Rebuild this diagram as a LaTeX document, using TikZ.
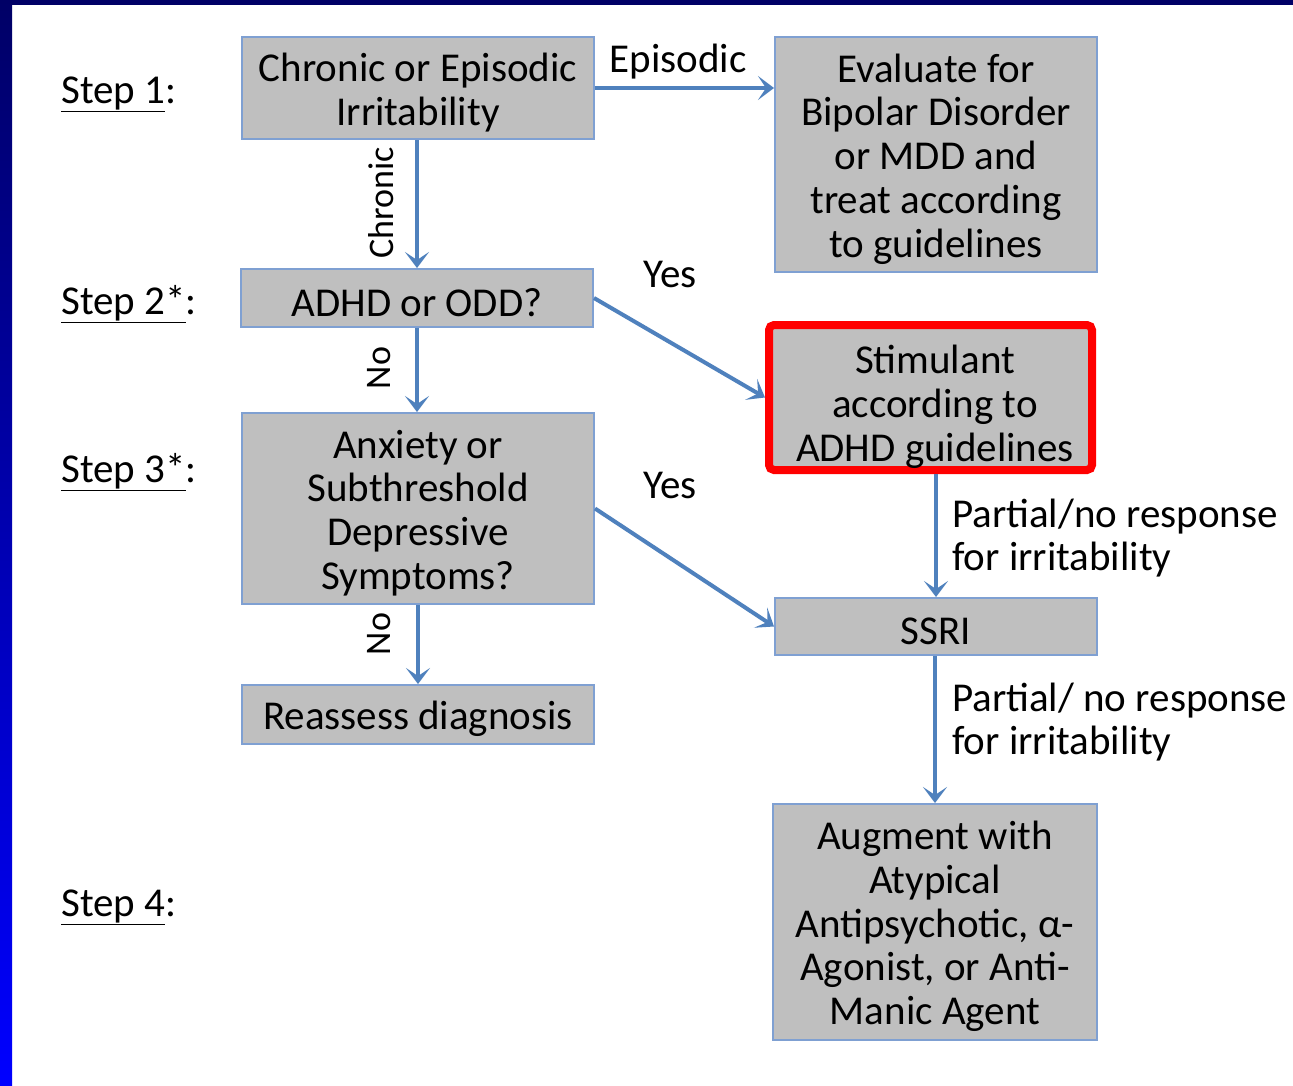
\documentclass[tikz,border=0pt]{standalone}
\usepackage{fontspec}
\setmainfont{Carlito}
\usetikzlibrary{arrows.meta}
\definecolor{boxfill}{RGB}{191,191,191}
\definecolor{boxline}{RGB}{127,160,210}
\definecolor{arrowblue}{RGB}{79,129,189}
\definecolor{navy}{RGB}{0,0,102}
\definecolor{brightblue}{RGB}{0,0,255}
\tikzset{
  box/.style={draw=boxline, line width=2pt, fill=boxfill, inner sep=0pt},
  boxtext/.style={inner sep=0pt, align=center, font=\fontsize{41}{43.75}\selectfont, text=black, yshift=-4.5pt},
  lbl/.style={inner sep=0pt, font=\fontsize{41}{43.75}\selectfont, text=black},
  vlbl/.style={inner sep=0pt, font=\fontsize{36}{40}\selectfont, text=black, rotate=90},
  arr/.style={draw=arrowblue, line width=4pt, -{Stealth[length=16pt,width=24pt,inset=8pt]}},
}
\begin{document}
\begin{tikzpicture}[x=1pt,y=-1pt]
\useasboundingbox (0,0) rectangle (1293,1085);
\fill[white] (0,0) rectangle (1293,1085);
\fill[navy] (0,0) rectangle (1293,5);
\shade[top color=navy, bottom color=brightblue, middle color={rgb,255:red,0;green,0;blue,178}] (0,0) rectangle (12,1085);

% step labels
\node[lbl, anchor=west] (s1) at (61,94) {\underline{Step 1}:};
\node[lbl, anchor=west] (s2) at (61,304) {\underline{Step 2*}:};
\node[lbl, anchor=west] (s3) at (61,472) {\underline{Step 3*}:};
\node[lbl, anchor=west] (s4) at (61,907) {\underline{Step 4}:};

% boxes
\node[box, minimum width=352pt, minimum height=102pt,
  label={[boxtext]center:{Chronic or Episodic\\Irritability}}] (b1) at (418,88) {};
\node[box, minimum width=322pt, minimum height=235pt,
  label={[boxtext]center:{Evaluate for\\Bipolar Disorder\\or MDD and\\treat according\\to guidelines}}] (eval) at (936,154.5) {};
\node[box, minimum width=352pt, minimum height=58pt,
  label={[boxtext]center:{ADHD or ODD?}}] (adhd) at (417,298) {};
\node[box, draw=red, line width=8pt, rounded corners=5pt, minimum width=323pt, minimum height=145pt,
  label={[boxtext, xshift=4.5pt, yshift=-5pt]center:{Stimulant\\according to\\ADHD guidelines}}] (stim) at (930.5,397.5) {};
\node[box, minimum width=352pt, minimum height=191pt,
  label={[boxtext]center:{Anxiety or\\Subthreshold\\Depressive\\Symptoms?}}] (anx) at (418,508.5) {};
\node[box, minimum width=352pt, minimum height=59pt,
  label={[boxtext]center:{Reassess diagnosis}}] (reas) at (418,714.5) {};
\node[box, minimum width=322pt, minimum height=57pt,
  label={[boxtext]center:{SSRI}}] (ssri) at (936,626.5) {};
\node[box, minimum width=324pt, minimum height=236pt,
  label={[boxtext]center:{Augment with\\Atypical\\Antipsychotic, α-\\Agonist, or Anti-\\Manic Agent}}] (aug) at (935,922) {};

% connectors
\draw[arr] (b1.east) -- (b1.east -| eval.west);
\draw[arr] (b1.south -| adhd.north) -- (adhd.north);
\draw[arr] (adhd.east) -- (stim.west);
\draw[arr] (adhd.south) -- (adhd.south |- anx.north);
\draw[arr] (anx.east) -- (ssri.west);
\draw[arr] (anx.south) -- (reas.north);
\draw[arr] (ssri.north |- stim.south) -- (ssri.north);
\draw[arr] (ssri.south -| aug.north) -- (aug.north);

% connector labels
\node[lbl] (lepi) at (678,62) {Episodic};
\node[vlbl] (lchr) at (381,203) {Chronic};
\node[lbl] (lyes1) at (670,274) {Yes};
\node[vlbl] (lno1) at (379,368) {No};
\node[lbl] (lyes2) at (670,485) {Yes};
\node[vlbl] (lno2) at (379,634) {No};
\node[lbl, anchor=west, align=left] (lp1) at (952,538) {Partial/no response\\for irritability};
\node[lbl, anchor=west, align=left] (lp2) at (952,722) {Partial/ no response\\for irritability};
\end{tikzpicture}
\end{document}
